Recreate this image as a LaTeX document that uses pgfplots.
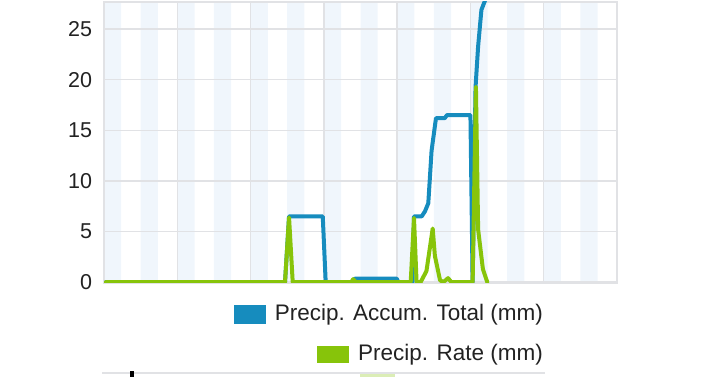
\documentclass[border=0pt]{standalone}
\usepackage{fontspec}
\setmainfont{Liberation Sans}
\usepackage{pgfplots}
\pgfplotsset{compat=1.18}
\definecolor{accblue}{RGB}{22,140,190}
\definecolor{rategreen}{RGB}{135,196,10}
\definecolor{stripe}{RGB}{240,246,252}
\definecolor{gridgrey}{RGB}{225,226,229}
\definecolor{txt}{RGB}{34,34,34}
\pgfplotsset{base/.style={
  at={(104pt,94.3pt)}, anchor=south west,
  scale only axis, width=513pt, height=281pt,
  xmin=0, xmax=14, ymin=-0.05, ymax=27.7}}
\begin{document}
\begin{tikzpicture}[x=1pt,y=1pt]
\path[use as bounding box] (0,0) rectangle (709,377);
% background stripes
\begin{axis}[base, hide axis]
\addplot[fill=stripe, draw=none] coordinates {
(0,-0.05) (0,27.7) (0.47,27.7) (0.47,-0.05)
(1,-0.05) (1,27.7) (1.47,27.7) (1.47,-0.05)
(2,-0.05) (2,27.7) (2.47,27.7) (2.47,-0.05)
(3,-0.05) (3,27.7) (3.47,27.7) (3.47,-0.05)
(4,-0.05) (4,27.7) (4.47,27.7) (4.47,-0.05)
(5,-0.05) (5,27.7) (5.47,27.7) (5.47,-0.05)
(6,-0.05) (6,27.7) (6.47,27.7) (6.47,-0.05)
(7,-0.05) (7,27.7) (7.47,27.7) (7.47,-0.05)
(8,-0.05) (8,27.7) (8.47,27.7) (8.47,-0.05)
(9,-0.05) (9,27.7) (9.47,27.7) (9.47,-0.05)
(10,-0.05) (10,27.7) (10.47,27.7) (10.47,-0.05)
(11,-0.05) (11,27.7) (11.47,27.7) (11.47,-0.05)
(12,-0.05) (12,27.7) (12.47,27.7) (12.47,-0.05)
(13,-0.05) (13,27.7) (13.47,27.7) (13.47,-0.05)
} -- cycle;
\end{axis}
\begin{axis}[
  base,
  xtick={0,2,...,14}, xticklabels={},
  ytick={0,5,...,25},
  major tick length=0pt,
  grid=major,
  major grid style={draw=gridgrey, line width=1.5pt},
  axis line style={draw=gridgrey, line width=2pt},
  /pgf/number format/assume math mode=true,
  yticklabel style={font=\fontsize{21.5pt}{24pt}\selectfont, text=txt, xshift=-8.5pt},
  every axis plot/.append style={line join=round, line cap=round},
]
\addplot[draw=accblue, line width=4pt] coordinates {
(0.05,0) (4.94,0) (5.05,6.5) (5.97,6.5) (6.05,0) (6.75,0) (6.85,0.35) (7.99,0.35) (8.03,0) (8.42,0) (8.46,6.5) (8.67,6.5) (8.76,7.0) (8.85,7.8) (8.94,13.0) (9.06,16.2) (9.30,16.2) (9.36,16.5) (10.0,16.5) (10.06,0) (10.14,19.3) (10.21,23.3) (10.30,26.9) (10.44,28.2)
};
\addplot[draw=rategreen, line width=4pt] coordinates {
(0.05,0) (4.94,0) (5.05,6.4) (5.15,0) (6.75,0) (6.80,0.3) (6.87,0) (8.37,0) (8.46,6.35) (8.53,0) (8.64,0) (8.80,1.1) (8.97,5.3) (9.03,2.6) (9.17,0.2) (9.26,0) (9.39,0.4) (9.48,0) (10.06,0) (10.15,19.3) (10.21,5.2) (10.34,1.3) (10.46,0)
};
\end{axis}
% legend
\node[anchor=east, inner sep=0pt, text=txt, font=\fontsize{22.5pt}{26pt}\selectfont] (l1) at (543,62.5) {Precip. Accum. Total (mm)};
\fill[accblue] ([xshift=-8.5pt,yshift=-9.5pt]l1.west) rectangle ++(-32.5,19);
\node[anchor=east, inner sep=0pt, text=txt, font=\fontsize{22.5pt}{26pt}\selectfont] (l2) at (543,22.8) {Precip. Rate (mm)};
\fill[rategreen] ([xshift=-8.5pt,yshift=-8.5pt]l2.west) rectangle ++(-32,17);
% cut-off element below
\draw[gridgrey, line width=2pt] (102,3.5) -- (545,3.5);
\fill[black] (130,0) rectangle (134,6);
\fill[rategreen!30] (360,0) rectangle (395,2.5);
\end{tikzpicture}
\end{document}
